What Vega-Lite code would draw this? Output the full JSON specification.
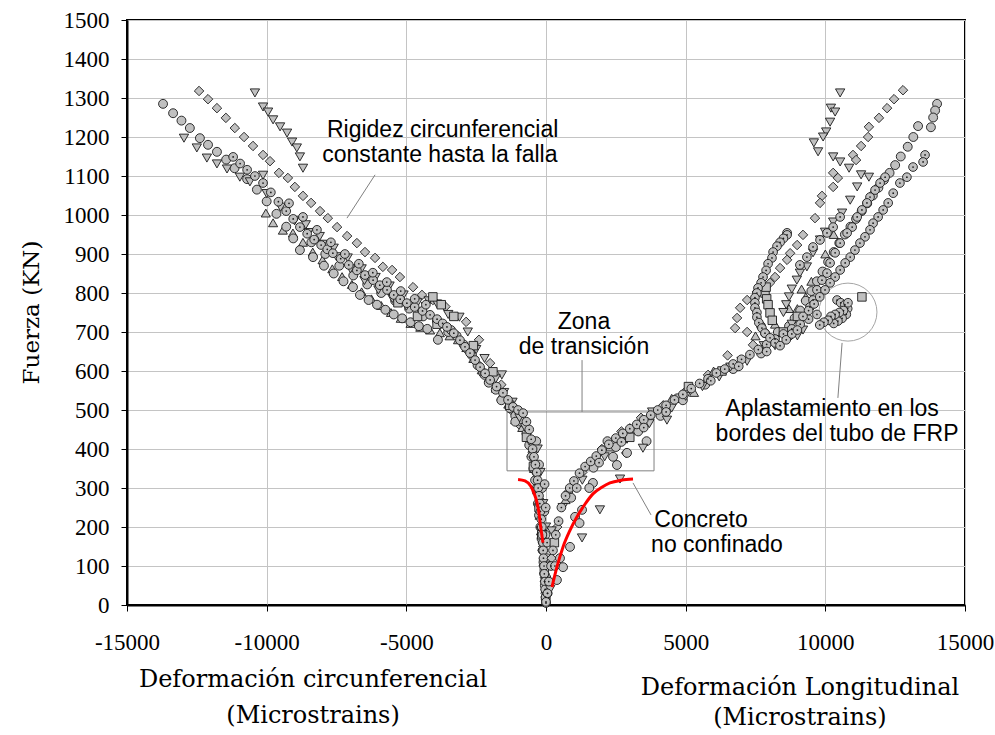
{
  "$schema": "https://vega.github.io/schema/vega-lite/v6.json",
  "autosize": "none",
  "width": 838,
  "height": 585,
  "padding": {"left": 127, "top": 20, "right": 30, "bottom": 130},
  "background": "white",
  "view": {"stroke": "black", "strokeWidth": 2},
  "datasets": {
    "pts": [
      {"s":"d","x":-12420,"y":1318},{"s":"d","x":-12100,"y":1297},{"s":"d","x":-11780,"y":1274},{"s":"d","x":-11460,"y":1249},{"s":"d","x":-11140,"y":1223},{"s":"d","x":-10810,"y":1200},{"s":"d","x":-10490,"y":1177},{"s":"d","x":-10130,"y":1154},{"s":"d","x":-9880,"y":1138},{"s":"d","x":-9560,"y":1108},{"s":"d","x":-9240,"y":1095},{"s":"d","x":-8990,"y":1072},{"s":"d","x":-8700,"y":1049},{"s":"d","x":-8410,"y":1031},{"s":"d","x":-8090,"y":1010},{"s":"d","x":-7810,"y":992},{"s":"d","x":-7480,"y":969},{"s":"d","x":-7120,"y":946},{"s":"d","x":-6770,"y":928},{"s":"d","x":-6480,"y":905},{"s":"d","x":-6120,"y":890},{"s":"d","x":-5840,"y":867},{"s":"d","x":-5510,"y":859},{"s":"d","x":-5230,"y":841},{"s":"d","x":-4760,"y":815},{"s":"d","x":-4440,"y":795},{"s":"d","x":-4050,"y":782},{"s":"d","x":-3600,"y":765},{"s":"d","x":-2860,"y":726},{"s":"d","x":-2400,"y":680},{"s":"d","x":-2000,"y":620},{"s":"d","x":-1600,"y":565},{"s":"d","x":-1250,"y":500},{"s":"d","x":-950,"y":462},{"s":"d","x":-650,"y":430},{"s":"d","x":-480,"y":392},{"s":"d","x":-360,"y":350},{"s":"d","x":-280,"y":310},{"s":"d","x":-220,"y":270},{"s":"d","x":-170,"y":230},{"s":"d","x":-130,"y":190},{"s":"d","x":-100,"y":150},{"s":"d","x":-70,"y":110},{"s":"d","x":-40,"y":70},{"s":"d","x":-20,"y":30},
      {"s":"ta","x":-10030,"y":1005},{"s":"ta","x":-9770,"y":980},{"s":"ta","x":-9420,"y":961},{"s":"ta","x":-9060,"y":954},{"s":"ta","x":-8700,"y":930},{"s":"ta","x":-8350,"y":905},{"s":"ta","x":-8000,"y":885},{"s":"ta","x":-7650,"y":862},{"s":"ta","x":-7300,"y":842},{"s":"ta","x":-6950,"y":822},{"s":"ta","x":-6600,"y":803},{"s":"ta","x":-6250,"y":785},{"s":"ta","x":-5900,"y":768},{"s":"ta","x":-5550,"y":750},{"s":"ta","x":-5200,"y":735},{"s":"ta","x":-4850,"y":722},{"s":"ta","x":-4500,"y":712},{"s":"ta","x":-4150,"y":705},{"s":"ta","x":-3800,"y":698},{"s":"ta","x":-3450,"y":690},{"s":"ta","x":-3150,"y":680},{"s":"ta","x":-2850,"y":660},{"s":"ta","x":-2600,"y":632},{"s":"ta","x":-2300,"y":603},{"s":"ta","x":-2050,"y":582},{"s":"ta","x":-1800,"y":556},{"s":"ta","x":-1600,"y":535},{"s":"ta","x":-1350,"y":515},{"s":"ta","x":-1100,"y":475},{"s":"ta","x":-850,"y":455},{"s":"ta","x":-650,"y":430},{"s":"ta","x":-520,"y":390},{"s":"ta","x":-430,"y":350},{"s":"ta","x":-350,"y":310},{"s":"ta","x":-280,"y":270},{"s":"ta","x":-230,"y":230},{"s":"ta","x":-180,"y":190},{"s":"ta","x":-130,"y":150},{"s":"ta","x":-90,"y":110},{"s":"ta","x":-50,"y":70},{"s":"ta","x":-20,"y":30},
      {"s":"c","x":-13710,"y":1285},{"s":"c","x":-13350,"y":1261},{"s":"c","x":-13050,"y":1242},{"s":"c","x":-12750,"y":1223},{"s":"c","x":-12390,"y":1197},{"s":"c","x":-12100,"y":1180},{"s":"c","x":-11780,"y":1162},{"s":"c","x":-11450,"y":1142},{"s":"c","x":-11150,"y":1120},{"s":"c","x":-10700,"y":1092},{"s":"c","x":-10350,"y":1065},{"s":"c","x":-10000,"y":1035},{"s":"c","x":-9650,"y":1003},{"s":"c","x":-9300,"y":970},{"s":"c","x":-9050,"y":940},{"s":"c","x":-8810,"y":910},{"s":"c","x":-8340,"y":892},{"s":"c","x":-7950,"y":870},{"s":"c","x":-7600,"y":850},{"s":"c","x":-7250,"y":830},{"s":"c","x":-6910,"y":815},{"s":"c","x":-6660,"y":795},{"s":"c","x":-6350,"y":782},{"s":"c","x":-6050,"y":770},{"s":"c","x":-5750,"y":757},{"s":"c","x":-5450,"y":745},{"s":"c","x":-5150,"y":735},{"s":"c","x":-4850,"y":725},{"s":"c","x":-4550,"y":715},{"s":"c","x":-4250,"y":708},{"s":"c","x":-3870,"y":680},{"s":"c","x":-3500,"y":700},{"s":"c","x":-3200,"y":690},{"s":"c","x":-2950,"y":668},{"s":"c","x":-2650,"y":640},{"s":"c","x":-2450,"y":615},{"s":"c","x":-2250,"y":595},{"s":"c","x":-2050,"y":570},{"s":"c","x":-1800,"y":552},{"s":"c","x":-1550,"y":530},{"s":"c","x":-1300,"y":505},{"s":"c","x":-1100,"y":485},{"s":"c","x":-880,"y":470},{"s":"c","x":-700,"y":440},{"s":"c","x":-600,"y":410},{"s":"c","x":-520,"y":380},{"s":"c","x":-450,"y":350},{"s":"c","x":-390,"y":320},{"s":"c","x":-330,"y":290},{"s":"c","x":-290,"y":260},{"s":"c","x":-250,"y":230},{"s":"c","x":-200,"y":200},{"s":"c","x":-160,"y":170},{"s":"c","x":-120,"y":140},{"s":"c","x":-90,"y":110},{"s":"c","x":-60,"y":80},{"s":"c","x":-40,"y":50},{"s":"c","x":-10,"y":15},
      {"s":"c","x":-8400,"y":930},{"s":"c","x":-7900,"y":900},{"s":"c","x":-7400,"y":870},{"s":"c","x":-6900,"y":845},{"s":"c","x":-6400,"y":822},{"s":"c","x":-5900,"y":800},{"s":"c","x":-5400,"y":780},{"s":"c","x":-4900,"y":760},{"s":"c","x":-4400,"y":740},{"s":"c","x":-3900,"y":728},{"s":"c","x":-3400,"y":705},{"s":"c","x":-2800,"y":655},{"s":"c","x":-2200,"y":590},{"s":"c","x":-1600,"y":525},{"s":"c","x":-1100,"y":470},{"s":"c","x":-350,"y":420},{"s":"c","x":-250,"y":360},{"s":"c","x":-140,"y":300},{"s":"c","x":-60,"y":240},{"s":"c","x":-20,"y":180},{"s":"c","x":30,"y":120},{"s":"c","x":10,"y":70},
      {"s":"tv","x":-10420,"y":1313},{"s":"tv","x":-10130,"y":1277},{"s":"tv","x":-9950,"y":1264},{"s":"tv","x":-9770,"y":1244},{"s":"tv","x":-9520,"y":1226},{"s":"tv","x":-9270,"y":1210},{"s":"tv","x":-9090,"y":1187},{"s":"tv","x":-8920,"y":1172},{"s":"tv","x":-8810,"y":1149},{"s":"tv","x":-8700,"y":1120},
      {"s":"tv","x":-12960,"y":1197},{"s":"tv","x":-12500,"y":1172},{"s":"tv","x":-12140,"y":1146},{"s":"tv","x":-11780,"y":1131},{"s":"tv","x":-11420,"y":1118},{"s":"tv","x":-10960,"y":1097},{"s":"tv","x":-10130,"y":1102},{"s":"tv","x":-10600,"y":1085},{"s":"tv","x":-10000,"y":1055},{"s":"tv","x":-9500,"y":1020},{"s":"tv","x":-9000,"y":985},{"s":"tv","x":-8500,"y":955},{"s":"tv","x":-8000,"y":925},{"s":"tv","x":-7500,"y":893},{"s":"tv","x":-7000,"y":862},{"s":"tv","x":-6500,"y":832},{"s":"tv","x":-6000,"y":808},{"s":"tv","x":-5500,"y":786},{"s":"tv","x":-5000,"y":766},{"s":"tv","x":-4500,"y":752},{"s":"tv","x":-4200,"y":780},{"s":"tv","x":-3900,"y":772},{"s":"tv","x":-3500,"y":745},{"s":"tv","x":-3100,"y":738},{"s":"tv","x":-2800,"y":700},{"s":"tv","x":-2500,"y":655},{"s":"tv","x":-2200,"y":632},{"s":"tv","x":-1580,"y":590},{"s":"tv","x":-1800,"y":580},{"s":"tv","x":-1500,"y":545},{"s":"tv","x":-1200,"y":520},{"s":"tv","x":-950,"y":480},{"s":"tv","x":-750,"y":455},{"s":"tv","x":-600,"y":420},{"s":"tv","x":-450,"y":370},{"s":"tv","x":-350,"y":330},{"s":"tv","x":-300,"y":290},{"s":"tv","x":-220,"y":240},{"s":"tv","x":-180,"y":190},{"s":"tv","x":-120,"y":150},{"s":"tv","x":-80,"y":110},{"s":"tv","x":-50,"y":70},{"s":"tv","x":-20,"y":30},
      {"s":"tv","x":-8600,"y":975},{"s":"tv","x":-8100,"y":945},{"s":"tv","x":-7600,"y":915},{"s":"tv","x":-7100,"y":890},{"s":"tv","x":-6600,"y":862},{"s":"tv","x":-6100,"y":840},{"s":"tv","x":-5600,"y":818},{"s":"tv","x":-5100,"y":795},{"s":"tv","x":-4600,"y":775},{"s":"tv","x":-4300,"y":765},{"s":"tv","x":-300,"y":400},{"s":"tv","x":-200,"y":340},{"s":"tv","x":-100,"y":260},{"s":"tv","x":0,"y":200},{"s":"tv","x":20,"y":100},
      {"s":"q","x":-4050,"y":790},{"s":"q","x":-3750,"y":770},{"s":"q","x":-3900,"y":720},{"s":"q","x":-4600,"y":740},{"s":"q","x":-2600,"y":665},{"s":"q","x":-1900,"y":598},{"s":"q","x":-1300,"y":512},{"s":"q","x":-700,"y":430},{"s":"q","x":-450,"y":355},{"s":"q","x":-250,"y":250},{"s":"q","x":-150,"y":180},{"s":"q","x":-60,"y":90},{"s":"q","x":-3300,"y":740},{"s":"q","x":-5300,"y":775},
      {"s":"cd","x":-11200,"y":1149},{"s":"cd","x":-10950,"y":1132},{"s":"cd","x":-10700,"y":1116},{"s":"cd","x":-10420,"y":1100},{"s":"cd","x":-10130,"y":1082},{"s":"cd","x":-9850,"y":1058},{"s":"cd","x":-9580,"y":1034},{"s":"cd","x":-9300,"y":1010},{"s":"cd","x":-9050,"y":990},{"s":"cd","x":-8810,"y":969},{"s":"cd","x":-8550,"y":952},{"s":"cd","x":-8300,"y":937},{"s":"cd","x":-8050,"y":923},{"s":"cd","x":-7830,"y":912},{"s":"cd","x":-7630,"y":902},{"s":"cd","x":-7350,"y":888},{"s":"cd","x":-7060,"y":872},{"s":"cd","x":-6770,"y":858},{"s":"cd","x":-6480,"y":846},{"s":"cd","x":-6190,"y":833},{"s":"cd","x":-5950,"y":820},{"s":"cd","x":-5690,"y":808},{"s":"cd","x":-5450,"y":795},{"s":"cd","x":-5220,"y":784},{"s":"cd","x":-4980,"y":774},{"s":"cd","x":-4700,"y":764},{"s":"cd","x":-4420,"y":754},{"s":"cd","x":-4150,"y":744},{"s":"cd","x":-3900,"y":733},
      {"s":"cd","x":-3700,"y":722},{"s":"cd","x":-3545,"y":713},{"s":"cd","x":-3300,"y":697},{"s":"cd","x":-3080,"y":679},{"s":"cd","x":-2900,"y":662},{"s":"cd","x":-2720,"y":646},{"s":"cd","x":-2540,"y":628},{"s":"cd","x":-2360,"y":610},{"s":"cd","x":-2180,"y":594},{"s":"cd","x":-2000,"y":577},{"s":"cd","x":-1770,"y":560},{"s":"cd","x":-1540,"y":544},{"s":"cd","x":-1360,"y":526},{"s":"cd","x":-1180,"y":508},{"s":"cd","x":-1000,"y":500},{"s":"cd","x":-820,"y":492},{"s":"cd","x":-700,"y":470},{"s":"cd","x":-600,"y":450},{"s":"cd","x":-530,"y":425},{"s":"cd","x":-480,"y":400},{"s":"cd","x":-430,"y":380},{"s":"cd","x":-380,"y":360},{"s":"cd","x":-330,"y":340},{"s":"cd","x":-300,"y":320},{"s":"cd","x":-280,"y":300},{"s":"cd","x":-250,"y":280},{"s":"cd","x":-220,"y":260},{"s":"cd","x":-200,"y":240},{"s":"cd","x":-170,"y":220},{"s":"cd","x":-150,"y":200},{"s":"cd","x":-130,"y":180},{"s":"cd","x":-110,"y":160},{"s":"cd","x":-100,"y":140},{"s":"cd","x":-90,"y":120},{"s":"cd","x":-70,"y":100},{"s":"cd","x":-60,"y":80},{"s":"cd","x":-40,"y":60},{"s":"cd","x":-30,"y":40},{"s":"cd","x":-15,"y":20},{"s":"cd","x":0,"y":5},
      {"s":"cd","x":-9200,"y":1030},{"s":"cd","x":-8700,"y":995},{"s":"cd","x":-8200,"y":962},{"s":"cd","x":-7700,"y":930},{"s":"cd","x":-7200,"y":900},{"s":"cd","x":-6700,"y":875},{"s":"cd","x":-6200,"y":852},{"s":"cd","x":-5700,"y":828},{"s":"cd","x":-5200,"y":805},{"s":"cd","x":-4700,"y":785},{"s":"cd","x":-4300,"y":770},{"s":"cd","x":-50,"y":310},{"s":"cd","x":-10,"y":250},{"s":"cd","x":40,"y":160},{"s":"cd","x":60,"y":30},
      {"s":"d","x":12780,"y":1320},{"s":"d","x":12460,"y":1297},{"s":"d","x":12210,"y":1274},{"s":"d","x":11920,"y":1249},{"s":"d","x":11560,"y":1226},{"s":"d","x":11530,"y":1200},{"s":"d","x":11280,"y":1177},{"s":"d","x":10990,"y":1154},{"s":"d","x":11100,"y":1141},{"s":"d","x":10280,"y":1108},{"s":"d","x":10450,"y":1095},{"s":"d","x":10280,"y":1072},{"s":"d","x":9880,"y":1049},{"s":"d","x":9810,"y":1031},{"s":"d","x":9630,"y":992},{"s":"d","x":9200,"y":949},{"s":"d","x":8990,"y":923},{"s":"d","x":8740,"y":902},{"s":"d","x":8630,"y":885},{"s":"d","x":8380,"y":864},{"s":"d","x":8200,"y":841},{"s":"d","x":8020,"y":826},{"s":"d","x":7550,"y":803},{"s":"d","x":7200,"y":782},{"s":"d","x":6950,"y":762},{"s":"d","x":6840,"y":736},{"s":"d","x":6770,"y":710},{"s":"d","x":7200,"y":700},{"s":"d","x":7410,"y":667},{"s":"d","x":6500,"y":640},{"s":"d","x":5800,"y":590},{"s":"d","x":5000,"y":548},{"s":"d","x":4200,"y":512},{"s":"d","x":3400,"y":480},{"s":"d","x":2870,"y":390},{"s":"d","x":2700,"y":445},{"s":"d","x":2000,"y":400},{"s":"d","x":1300,"y":340},{"s":"d","x":800,"y":290},{"s":"d","x":400,"y":200},{"s":"d","x":200,"y":120},{"s":"d","x":100,"y":60},
      {"s":"ta","x":9000,"y":760},{"s":"ta","x":9300,"y":790},{"s":"ta","x":8200,"y":720},{"s":"ta","x":7500,"y":690},{"s":"ta","x":6000,"y":600},{"s":"ta","x":4500,"y":530},{"s":"ta","x":3000,"y":455},{"s":"ta","x":1800,"y":380},{"s":"ta","x":700,"y":270},{"s":"ta","x":9500,"y":830},{"s":"ta","x":10000,"y":900},{"s":"ta","x":10300,"y":950},{"s":"ta","x":8700,"y":760},{"s":"ta","x":9150,"y":810},{"s":"ta","x":5300,"y":545},{"s":"ta","x":2300,"y":405},
      {"s":"c","x":14000,"y":1285},{"s":"c","x":13930,"y":1268},{"s":"c","x":13860,"y":1250},{"s":"c","x":13780,"y":1225},{"s":"c","x":13320,"y":1228},{"s":"c","x":13150,"y":1200},{"s":"c","x":12950,"y":1175},{"s":"c","x":12700,"y":1150},{"s":"c","x":12500,"y":1128},{"s":"c","x":12300,"y":1108},{"s":"c","x":12100,"y":1090},{"s":"c","x":11900,"y":1070},{"s":"c","x":11700,"y":1050},{"s":"c","x":11500,"y":1030},{"s":"c","x":11300,"y":1010},{"s":"c","x":11100,"y":990},{"s":"c","x":10900,"y":970},{"s":"c","x":10700,"y":950},{"s":"c","x":10500,"y":928},{"s":"c","x":10300,"y":905},{"s":"c","x":10100,"y":880},{"s":"c","x":9900,"y":855},{"s":"c","x":9700,"y":830},{"s":"c","x":9500,"y":805},{"s":"c","x":9300,"y":780},{"s":"c","x":9100,"y":755},{"s":"c","x":8900,"y":735},{"s":"c","x":8700,"y":715},
      {"s":"c","x":390,"y":64},{"s":"c","x":610,"y":97},{"s":"c","x":860,"y":149},{"s":"c","x":1040,"y":226},{"s":"c","x":1290,"y":244},{"s":"c","x":1680,"y":313},{"s":"c","x":2540,"y":359},{"s":"c","x":2900,"y":390},{"s":"c","x":3600,"y":420},{"s":"c","x":2400,"y":380},{"s":"c","x":1550,"y":300},{"s":"c","x":1200,"y":210},{"s":"c","x":500,"y":120},{"s":"c","x":2200,"y":420},{"s":"c","x":3200,"y":450},{"s":"c","x":4700,"y":530},{"s":"c","x":7840,"y":697},{"s":"c","x":7700,"y":715},{"s":"c","x":8300,"y":700},{"s":"c","x":8630,"y":954},
      {"s":"c","x":900,"y":275},{"s":"c","x":1700,"y":352},{"s":"c","x":2500,"y":405},{"s":"c","x":3300,"y":445},{"s":"c","x":4100,"y":485},{"s":"c","x":4900,"y":525},{"s":"c","x":5700,"y":565},{"s":"c","x":6700,"y":605},{"s":"c","x":7700,"y":645},{"s":"c","x":8700,"y":690},
      {"s":"tv","x":10530,"y":1313},{"s":"tv","x":10200,"y":1274},{"s":"tv","x":10350,"y":1264},{"s":"tv","x":10170,"y":1238},{"s":"tv","x":10030,"y":1213},{"s":"tv","x":9920,"y":1200},{"s":"tv","x":9590,"y":1185},{"s":"tv","x":9740,"y":1162},{"s":"tv","x":10280,"y":1149},{"s":"tv","x":10530,"y":1136},{"s":"tv","x":10850,"y":1120},{"s":"tv","x":11280,"y":1103},{"s":"tv","x":11560,"y":1097},{"s":"tv","x":11140,"y":1072},{"s":"tv","x":10890,"y":1038},{"s":"tv","x":10600,"y":1005},{"s":"tv","x":10280,"y":982},{"s":"tv","x":9990,"y":956},{"s":"tv","x":9810,"y":936},{"s":"tv","x":9560,"y":903},{"s":"tv","x":9340,"y":867},{"s":"tv","x":9090,"y":851},{"s":"tv","x":8980,"y":833},{"s":"tv","x":8800,"y":810},{"s":"tv","x":8700,"y":790},{"s":"tv","x":8600,"y":770},{"s":"tv","x":8500,"y":750},{"s":"tv","x":8800,"y":720},{"s":"tv","x":9200,"y":705},{"s":"tv","x":9000,"y":690},{"s":"tv","x":8200,"y":680},{"s":"tv","x":7800,"y":665},{"s":"tv","x":7000,"y":625},{"s":"tv","x":6600,"y":610},{"s":"tv","x":5600,"y":560},{"s":"tv","x":4330,"y":474},{"s":"tv","x":3470,"y":402},{"s":"tv","x":2650,"y":323},{"s":"tv","x":1930,"y":244},{"s":"tv","x":1290,"y":172},{"s":"tv","x":600,"y":250},{"s":"tv","x":3800,"y":495},{"s":"tv","x":5000,"y":535},
      {"s":"tv","x":1300,"y":320},{"s":"tv","x":2100,"y":380},{"s":"tv","x":2900,"y":425},{"s":"tv","x":3700,"y":465},{"s":"tv","x":4500,"y":505},{"s":"tv","x":6200,"y":585},{"s":"tv","x":7200,"y":625},{"s":"tv","x":8200,"y":665},{"s":"tv","x":200,"y":190},{"s":"tv","x":150,"y":40},
      {"s":"q","x":11310,"y":790},{"s":"q","x":7840,"y":800},{"s":"q","x":7900,"y":785},{"s":"q","x":7950,"y":770},{"s":"q","x":8020,"y":749},{"s":"q","x":7880,"y":815},{"s":"q","x":8100,"y":730},{"s":"q","x":8500,"y":700},{"s":"q","x":9000,"y":740},{"s":"q","x":3000,"y":430},{"s":"q","x":300,"y":160},{"s":"q","x":5100,"y":560},{"s":"q","x":6300,"y":600},
      {"s":"cd","x":0,"y":8},{"s":"cd","x":50,"y":30},{"s":"cd","x":100,"y":60},{"s":"cd","x":180,"y":100},{"s":"cd","x":250,"y":140},{"s":"cd","x":350,"y":180},{"s":"cd","x":450,"y":215},{"s":"cd","x":550,"y":250},{"s":"cd","x":700,"y":280},{"s":"cd","x":850,"y":300},{"s":"cd","x":1000,"y":318},{"s":"cd","x":1200,"y":338},{"s":"cd","x":1400,"y":355},{"s":"cd","x":1600,"y":368},{"s":"cd","x":1800,"y":382},{"s":"cd","x":2000,"y":397},{"s":"cd","x":2250,"y":412},{"s":"cd","x":2500,"y":428},{"s":"cd","x":2750,"y":440},{"s":"cd","x":3000,"y":452},{"s":"cd","x":3250,"y":463},{"s":"cd","x":3500,"y":475},{"s":"cd","x":3750,"y":487},{"s":"cd","x":4000,"y":500},{"s":"cd","x":4300,"y":512},{"s":"cd","x":4600,"y":526},{"s":"cd","x":4900,"y":540},{"s":"cd","x":5200,"y":555},{"s":"cd","x":5500,"y":568},{"s":"cd","x":5800,"y":580},{"s":"cd","x":6100,"y":595},{"s":"cd","x":6400,"y":605},{"s":"cd","x":6700,"y":618},{"s":"cd","x":7000,"y":630},{"s":"cd","x":7300,"y":642},{"s":"cd","x":7600,"y":655},{"s":"cd","x":7900,"y":668},{"s":"cd","x":8200,"y":682},{"s":"cd","x":8500,"y":695},{"s":"cd","x":8800,"y":708},{"s":"cd","x":9100,"y":720},{"s":"cd","x":9400,"y":733},{"s":"cd","x":9700,"y":745},
      {"s":"cd","x":12140,"y":1097},{"s":"cd","x":11960,"y":1082},{"s":"cd","x":11780,"y":1064},{"s":"cd","x":11600,"y":1046},{"s":"cd","x":11490,"y":1031},{"s":"cd","x":11310,"y":1013},{"s":"cd","x":11140,"y":995},{"s":"cd","x":10960,"y":969},{"s":"cd","x":10780,"y":954},{"s":"cd","x":10530,"y":928},{"s":"cd","x":10350,"y":903},{"s":"cd","x":10170,"y":877},{"s":"cd","x":10060,"y":851},{"s":"cd","x":9880,"y":833},{"s":"cd","x":9700,"y":808},{"s":"cd","x":9560,"y":782},{"s":"cd","x":9450,"y":764},
      {"s":"cd","x":13570,"y":1154},{"s":"cd","x":13500,"y":1136},{"s":"cd","x":13140,"y":1123},{"s":"cd","x":12920,"y":1097},{"s":"cd","x":12670,"y":1082},{"s":"cd","x":12430,"y":1056},{"s":"cd","x":12250,"y":1031},{"s":"cd","x":12070,"y":1013},{"s":"cd","x":11890,"y":995},{"s":"cd","x":11710,"y":979},{"s":"cd","x":11600,"y":962},{"s":"cd","x":11420,"y":944},{"s":"cd","x":11240,"y":928},{"s":"cd","x":11060,"y":910},{"s":"cd","x":10890,"y":892},{"s":"cd","x":10710,"y":877},{"s":"cd","x":10530,"y":859},{"s":"cd","x":10350,"y":841},{"s":"cd","x":10170,"y":826},{"s":"cd","x":9990,"y":808},{"s":"cd","x":9800,"y":790},{"s":"cd","x":9600,"y":772},{"s":"cd","x":9400,"y":755},{"s":"cd","x":9200,"y":740},
      {"s":"cd","x":8630,"y":949},{"s":"cd","x":8500,"y":940},{"s":"cd","x":8380,"y":930},{"s":"cd","x":8270,"y":920},{"s":"cd","x":8130,"y":905},{"s":"cd","x":8090,"y":890},{"s":"cd","x":7950,"y":875},{"s":"cd","x":7880,"y":858},{"s":"cd","x":7770,"y":841},{"s":"cd","x":7700,"y":826},{"s":"cd","x":7590,"y":813},{"s":"cd","x":7550,"y":800},{"s":"cd","x":7480,"y":788},{"s":"cd","x":7480,"y":775},{"s":"cd","x":7480,"y":762},{"s":"cd","x":7550,"y":750},{"s":"cd","x":7550,"y":738},{"s":"cd","x":7620,"y":724},{"s":"cd","x":7730,"y":710},{"s":"cd","x":7840,"y":697},{"s":"cd","x":8020,"y":685},{"s":"cd","x":8200,"y":672},{"s":"cd","x":8380,"y":665},{"s":"cd","x":8600,"y":680},{"s":"cd","x":8800,"y":695},{"s":"cd","x":9000,"y":705},
      {"s":"cd","x":10420,"y":782},{"s":"cd","x":10550,"y":775},{"s":"cd","x":10700,"y":770},{"s":"cd","x":10800,"y":760},{"s":"cd","x":10750,"y":745},{"s":"cd","x":10600,"y":735},{"s":"cd","x":10450,"y":728},{"s":"cd","x":10300,"y":722},{"s":"cd","x":10650,"y":755},{"s":"cd","x":10500,"y":750},{"s":"cd","x":10350,"y":745},{"s":"cd","x":10200,"y":740},{"s":"cd","x":10810,"y":775},{"s":"cd","x":10100,"y":730},{"s":"cd","x":9950,"y":725},{"s":"cd","x":9800,"y":718},
      {"s":"cd","x":9090,"y":872},{"s":"cd","x":9340,"y":892},{"s":"cd","x":9560,"y":918},{"s":"cd","x":9810,"y":936},{"s":"cd","x":10060,"y":954},{"s":"cd","x":10280,"y":969},{"s":"cd","x":10530,"y":995},
      {"s":"cd","x":1100,"y":300},{"s":"cd","x":1900,"y":365},{"s":"cd","x":2700,"y":418},{"s":"cd","x":3500,"y":455},{"s":"cd","x":4300,"y":495},{"s":"cd","x":5900,"y":575},{"s":"cd","x":6900,"y":612},{"s":"cd","x":7900,"y":650},{"s":"cd","x":320,"y":100}
    ]
  },
  "encoding": {
    "x": {
      "field": "x", "type": "quantitative",
      "scale": {"domain": [-15000, 15000], "nice": false, "zero": false},
      "axis": {
        "values": [-15000, -10000, -5000, 0, 5000, 10000, 15000],
        "format": "d", "labelExpr": "replace(datum.label, '−', '-')", "title": null,
        "grid": true, "gridColor": "#c4c4c4", "gridWidth": 1,
        "domainColor": "black", "domainWidth": 2,
        "tickColor": "black", "tickSize": 6, "tickWidth": 1,
        "labelFont": "Liberation Serif", "labelFontSize": 23, "labelColor": "black",
        "labelPadding": 20, "labelFlush": false
      }
    },
    "y": {
      "field": "y", "type": "quantitative",
      "scale": {"domain": [0, 1500], "nice": false},
      "axis": {
        "values": [0, 100, 200, 300, 400, 500, 600, 700, 800, 900, 1000, 1100, 1200, 1300, 1400, 1500],
        "format": "d", "title": "Fuerza (KN)",
        "grid": true, "gridColor": "#c4c4c4", "gridWidth": 1,
        "domainColor": "black", "domainWidth": 2,
        "tickColor": "black", "tickSize": 6, "tickWidth": 1,
        "labelFont": "Liberation Serif", "labelFontSize": 23, "labelColor": "black",
        "labelPadding": 12, "labelFlush": false,
        "titleFont": "DejaVu Serif", "titleFontSize": 23, "titleFontWeight": "normal", "titleColor": "black",
        "titleX": -96, "titleY": 292, "titleAngle": -90, "titleAlign": "center", "titleBaseline": "middle"
      }
    }
  },
  "layer": [
    {
      "data": {"values": [{"x": -1396, "x2": 3867, "y": 344, "y2": 495}]},
      "mark": {"type": "rect", "fill": null, "fillOpacity": 0, "stroke": "#808080", "strokeWidth": 1},
      "encoding": {"x2": {"field": "x2"}, "y2": {"field": "y2"}}
    },
    {
      "data": {"values": [
        {"x": -6120, "y": 1103, "x2": -7125, "y2": 992},
        {"x": 1290, "y": 628, "x2": 1290, "y2": 495},
        {"x": 10600, "y": 672, "x2": 10450, "y2": 531},
        {"x": 3115, "y": 313, "x2": 3760, "y2": 231}
      ]},
      "mark": {"type": "rule", "color": "#808080", "strokeWidth": 1},
      "encoding": {"x2": {"field": "x2"}, "y2": {"field": "y2"}}
    },
    {
      "data": {"values": [{"x": 10810, "y": 751}]},
      "mark": {"type": "point", "shape": "circle", "filled": false, "size": 3364, "stroke": "#808080", "strokeWidth": 1}
    },
    {
      "data": {"name": "pts"},
      "mark": {"type": "point", "filled": true, "fill": "#c0c0c0", "fillOpacity": 1, "stroke": "#1a1a1a", "strokeWidth": 0.9, "opacity": 1},
      "encoding": {
        "shape": {
          "field": "s", "type": "nominal", "legend": null,
          "scale": {"domain": ["d", "tv", "ta", "c", "cd", "q"], "range": ["diamond", "triangle-down", "triangle-up", "circle", "circle", "square"]}
        },
        "size": {
          "field": "s", "type": "nominal", "legend": null,
          "scale": {"domain": ["d", "tv", "ta", "c", "cd", "q"], "range": [90, 72, 72, 72, 72, 60]}
        }
      }
    },
    {
      "data": {"name": "pts"},
      "transform": [{"filter": "datum.s === 'cd'"}],
      "mark": {"type": "point", "shape": "circle", "filled": true, "size": 3, "color": "#1a1a1a", "opacity": 1}
    },
    {
      "data": {"values": [
        {"side": "L", "x": -1000, "y": 322}, {"side": "L", "x": -750, "y": 318}, {"side": "L", "x": -550, "y": 305},
        {"side": "L", "x": -420, "y": 285}, {"side": "L", "x": -320, "y": 262}, {"side": "L", "x": -250, "y": 235},
        {"side": "L", "x": -200, "y": 205}, {"side": "L", "x": -150, "y": 180}, {"side": "L", "x": -110, "y": 160},
        {"side": "R", "x": 215, "y": 46}, {"side": "R", "x": 390, "y": 97}, {"side": "R", "x": 610, "y": 149},
        {"side": "R", "x": 850, "y": 190}, {"side": "R", "x": 1110, "y": 226}, {"side": "R", "x": 1400, "y": 259},
        {"side": "R", "x": 1680, "y": 285}, {"side": "R", "x": 2000, "y": 302}, {"side": "R", "x": 2290, "y": 313},
        {"side": "R", "x": 2700, "y": 320}, {"side": "R", "x": 3115, "y": 323}
      ]},
      "mark": {"type": "line", "color": "#ff0000", "strokeWidth": 3, "interpolate": "monotone"},
      "encoding": {"detail": {"field": "side", "type": "nominal"}}
    },
    {
      "data": {"values": [
        {"x": -3700, "y": 1218, "t": "Rigidez circunferencial"},
        {"x": -3800, "y": 1154, "t": "constante hasta la falla"},
        {"x": 1360, "y": 726, "t": "Zona"},
        {"x": 1360, "y": 662, "t": "de transición"},
        {"x": 10240, "y": 503, "t": "Aplastamiento en los"},
        {"x": 10420, "y": 438, "t": "bordes del tubo de FRP"},
        {"x": 5550, "y": 218, "t": "Concreto"},
        {"x": 6120, "y": 154, "t": "no confinado"}
      ]},
      "mark": {"type": "text", "font": "Liberation Sans", "fontSize": 23, "color": "black", "align": "center", "baseline": "middle"},
      "encoding": {"text": {"field": "t", "type": "nominal"}}
    },
    {
      "data": {"values": [
        {"x": -8340, "y": -192, "t": "Deformación circunferencial"},
        {"x": -8340, "y": -285, "t": "(Microstrains)"},
        {"x": 9090, "y": -213, "t": "Deformación Longitudinal"},
        {"x": 9090, "y": -290, "t": "(Microstrains)"}
      ]},
      "mark": {"type": "text", "font": "DejaVu Serif", "fontSize": 24, "color": "black", "align": "center", "baseline": "middle"},
      "encoding": {"text": {"field": "t", "type": "nominal"}}
    }
  ]
}
